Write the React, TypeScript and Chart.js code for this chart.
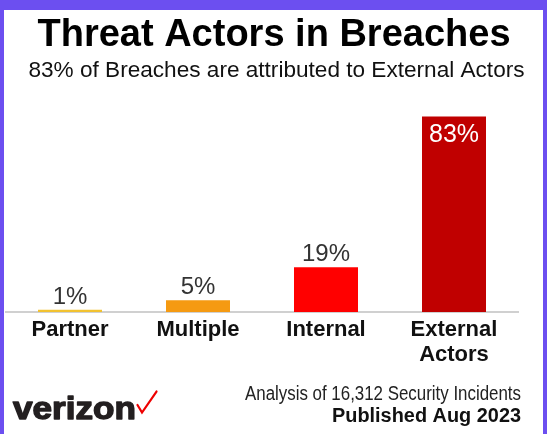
import React, { useEffect, useRef } from "react";
import { Chart, registerables } from "chart.js";

Chart.register(...registerables);

const TITLE = "Threat Actors in Breaches";
const SUBTITLE = "83% of Breaches are attributed to External Actors";
const categories: (string | string[])[] = ["Partner", "Multiple", "Internal", ["External", "Actors"]];
const values = [1, 5, 19, 83];
const barColors = ["#f2c230", "#f59a12", "#ff0000", "#c00000"];
const FOOTER_LINE1 = "Analysis of 16,312 Security Incidents";
const FOOTER_LINE2 = "Published Aug 2023";
const BRAND = "verizon";

const FONT = '"Liberation Sans", Arial, Helvetica, sans-serif';
const BORDER = "#6c4ff0";

const labelPlugin = {
  id: "valueLabels",
  afterDatasetsDraw(chart: any) {
    const ctx = chart.ctx;
    const meta = chart.getDatasetMeta(0);
    ctx.save();
    ctx.textAlign = "center";
    ctx.textBaseline = "alphabetic";
    meta.data.forEach((bar: any, i: number) => {
      const text = values[i] + "%";
      const h = bar.base - bar.y;
      if (h > 60) {
        ctx.fillStyle = "#ffffff";
        ctx.font = `25px ${FONT}`;
        ctx.fillText(text, bar.x, bar.y + 26);
      } else {
        ctx.fillStyle = "#333333";
        ctx.font = `24px ${FONT}`;
        ctx.fillText(text, bar.x, bar.y - 6);
      }
    });
    ctx.restore();
  },
};

const decorPlugin = {
  id: "decor",
  afterDraw(chart: any) {
    const ctx = chart.ctx;
    const W = chart.width;
    const H = chart.height;
    ctx.save();
    // frame
    ctx.fillStyle = BORDER;
    ctx.fillRect(0, 0, W, 10);
    ctx.fillRect(0, 0, 4, H);
    ctx.fillRect(W - 4, 0, 4, H);
    // title
    ctx.textBaseline = "alphabetic";
    ctx.textAlign = "center";
    ctx.fillStyle = "#000000";
    ctx.font = `bold 38px ${FONT}`;
    ctx.fillText(TITLE, 274, 46);
    ctx.fillStyle = "#111111";
    ctx.font = `22.6px ${FONT}`;
    ctx.fillText(SUBTITLE, 276.5, 77);
    // footer texts
    ctx.textAlign = "right";
    ctx.fillStyle = "#222222";
    ctx.font = `20px ${FONT}`;
    const w1 = ctx.measureText(FOOTER_LINE1).width;
    const s1 = Math.min(1, 276 / w1);
    ctx.save();
    ctx.translate(521, 400);
    ctx.scale(s1, 1);
    ctx.fillText(FOOTER_LINE1, 0, 0);
    ctx.restore();
    ctx.fillStyle = "#111111";
    ctx.font = `bold 20px ${FONT}`;
    const w2 = ctx.measureText(FOOTER_LINE2).width;
    const s2 = Math.min(1, 189 / w2);
    ctx.save();
    ctx.translate(521, 421.5);
    ctx.scale(s2, 1);
    ctx.fillText(FOOTER_LINE2, 0, 0);
    ctx.restore();
    // brand
    ctx.textAlign = "left";
    ctx.fillStyle = "#231f20";
    ctx.strokeStyle = "#231f20";
    ctx.lineWidth = 1.4;
    ctx.lineJoin = "round";
    ctx.font = `bold 32px ${FONT}`;
    const wb = ctx.measureText(BRAND).width;
    ctx.save();
    ctx.translate(13, 419);
    ctx.scale(123 / wb, 1);
    ctx.fillText(BRAND, 0, 0);
    ctx.strokeText(BRAND, 0, 0);
    ctx.restore();
    // check mark
    ctx.strokeStyle = "#ee0000";
    ctx.lineWidth = 2.2;
    ctx.lineCap = "round";
    ctx.lineJoin = "miter";
    ctx.beginPath();
    ctx.moveTo(137.5, 405);
    ctx.lineTo(142, 412.5);
    ctx.lineTo(156.5, 391.5);
    ctx.stroke();
    ctx.restore();
  },
};

export default function App() {
  const ref = useRef<HTMLCanvasElement | null>(null);
  useEffect(() => {
    if (!ref.current) return;
    Chart.defaults.font.family = FONT;
    const chart = new Chart(ref.current, {
      type: "bar",
      data: {
        labels: categories as any,
        datasets: [
          {
            data: values,
            backgroundColor: barColors,
            borderWidth: 0,
            barPercentage: 0.5,
            categoryPercentage: 1.0,
          },
        ],
      },
      options: {
        animation: false,
        responsive: false,
        events: [],
        layout: { padding: { top: 100, left: 6, right: 29, bottom: 61.4 } },
        plugins: {
          legend: { display: false },
          tooltip: { enabled: false },
          title: { display: false },
        },
        scales: {
          x: {
            grid: { display: false, drawTicks: false },
            border: { display: true, color: "#d0d0d0", width: 2 },
            ticks: {
              color: "#111111",
              font: { family: FONT, size: 22, weight: "bold", lineHeight: 1.15 },
              padding: 5,
              maxRotation: 0,
              autoSkip: false,
            },
          },
          y: { display: false, min: 0, max: 90 },
        },
      },
      plugins: [labelPlugin, decorPlugin],
    });
    return () => chart.destroy();
  }, []);
  return (
    <div style={{ position: "absolute", left: 0, top: 0, width: 547, height: 434, background: "#ffffff" }}>
      <canvas ref={ref} width={547} height={434} style={{ display: "block" }} />
    </div>
  );
}
